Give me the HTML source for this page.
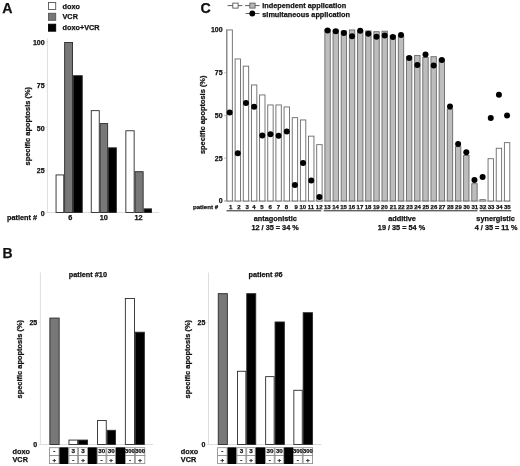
<!DOCTYPE html>
<html><head><meta charset="utf-8"><style>
html,body{margin:0;padding:0;background:#fff;}
svg{display:block;font-family:"Liberation Sans", sans-serif;will-change:transform;}
</style></head><body>
<svg width="520" height="466" viewBox="0 0 520 466">
<rect width="520" height="466" fill="#fff"/>
<text x="2.20" y="13.10" font-size="14.2" text-anchor="start" font-weight="bold" fill="#111" stroke="#111" stroke-width="0.25" >A</text>
<rect x="48.50" y="2.50" width="7.20" height="7.00" fill="#fff" stroke="#555" stroke-width="0.9" />
<rect x="48.50" y="13.30" width="7.20" height="7.00" fill="#787878" stroke="#555" stroke-width="0.9" />
<rect x="48.50" y="24.20" width="7.20" height="7.00" fill="#000" stroke="#000" stroke-width="0.9" />
<text x="62.50" y="8.60" font-size="7.3" text-anchor="start" font-weight="bold" fill="#111" stroke="#111" stroke-width="0.25" >doxo</text>
<text x="62.50" y="19.40" font-size="7.3" text-anchor="start" font-weight="bold" fill="#111" stroke="#111" stroke-width="0.25" >VCR</text>
<text x="62.50" y="30.00" font-size="7.3" text-anchor="start" font-weight="bold" fill="#111" stroke="#111" stroke-width="0.25" >doxo+VCR</text>
<line x1="47.40" y1="38.50" x2="47.40" y2="212.50" stroke="#d4d4d4" stroke-width="0.8"/>
<line x1="47.40" y1="212.50" x2="159.00" y2="212.50" stroke="#d4d4d4" stroke-width="0.8"/>
<text x="44.60" y="45.28" font-size="7.0" text-anchor="end" font-weight="bold" fill="#111" stroke="#111" stroke-width="0.25" >100</text>
<line x1="45.60" y1="42.00" x2="47.40" y2="42.00" stroke="#d4d4d4" stroke-width="0.6"/>
<text x="44.60" y="87.91" font-size="7.0" text-anchor="end" font-weight="bold" fill="#111" stroke="#111" stroke-width="0.25" >75</text>
<line x1="45.60" y1="84.62" x2="47.40" y2="84.62" stroke="#d4d4d4" stroke-width="0.6"/>
<text x="44.60" y="130.54" font-size="7.0" text-anchor="end" font-weight="bold" fill="#111" stroke="#111" stroke-width="0.25" >50</text>
<line x1="45.60" y1="127.25" x2="47.40" y2="127.25" stroke="#d4d4d4" stroke-width="0.6"/>
<text x="44.60" y="173.16" font-size="7.0" text-anchor="end" font-weight="bold" fill="#111" stroke="#111" stroke-width="0.25" >25</text>
<line x1="45.60" y1="169.88" x2="47.40" y2="169.88" stroke="#d4d4d4" stroke-width="0.6"/>
<text x="44.60" y="215.79" font-size="7.0" text-anchor="end" font-weight="bold" fill="#111" stroke="#111" stroke-width="0.25" >0</text>
<line x1="45.60" y1="212.50" x2="47.40" y2="212.50" stroke="#d4d4d4" stroke-width="0.6"/>
<rect x="56.05" y="174.93" width="7.70" height="37.57" fill="#fff" stroke="#2a2a2a" stroke-width="0.9" />
<rect x="64.65" y="42.45" width="7.90" height="170.05" fill="#787878" stroke="#2a2a2a" stroke-width="0.9" />
<rect x="73.45" y="75.70" width="8.80" height="136.80" fill="#000" stroke="#2a2a2a" stroke-width="0.9" />
<rect x="91.25" y="110.65" width="8.00" height="101.85" fill="#fff" stroke="#2a2a2a" stroke-width="0.9" />
<rect x="100.15" y="123.61" width="7.50" height="88.89" fill="#787878" stroke="#2a2a2a" stroke-width="0.9" />
<rect x="108.55" y="147.82" width="7.80" height="64.68" fill="#000" stroke="#2a2a2a" stroke-width="0.9" />
<rect x="125.85" y="130.77" width="8.30" height="81.73" fill="#fff" stroke="#2a2a2a" stroke-width="0.9" />
<rect x="135.05" y="171.69" width="8.10" height="40.81" fill="#787878" stroke="#2a2a2a" stroke-width="0.9" />
<rect x="144.05" y="208.86" width="7.50" height="3.64" fill="#000" stroke="#2a2a2a" stroke-width="0.9" />
<text x="22.10" y="219.90" font-size="7.3" text-anchor="middle" font-weight="bold" fill="#111" stroke="#111" stroke-width="0.25" >patient #</text>
<text x="70.40" y="220.20" font-size="7.3" text-anchor="middle" font-weight="bold" fill="#111" stroke="#111" stroke-width="0.25" >6</text>
<text x="103.75" y="220.20" font-size="7.3" text-anchor="middle" font-weight="bold" fill="#111" stroke="#111" stroke-width="0.25" >10</text>
<text x="138.50" y="220.20" font-size="7.3" text-anchor="middle" font-weight="bold" fill="#111" stroke="#111" stroke-width="0.25" >12</text>
<text transform="translate(29.70,126.20) rotate(-90)" x="0" y="0" font-size="7.45" text-anchor="middle" font-weight="bold" fill="#111" stroke="#111" stroke-width="0.25">specific apoptosis (%)</text>
<text x="200.50" y="13.20" font-size="14.2" text-anchor="start" font-weight="bold" fill="#111" stroke="#111" stroke-width="0.25" >C</text>
<line x1="227.60" y1="5.60" x2="242.30" y2="5.60" stroke="#333" stroke-width="0.8"/>
<rect x="232.80" y="3.10" width="5.30" height="5.00" fill="#fff" stroke="#444" stroke-width="0.8" />
<line x1="245.10" y1="5.60" x2="259.50" y2="5.60" stroke="#333" stroke-width="0.8"/>
<rect x="249.80" y="3.10" width="5.30" height="5.00" fill="#b8b8b8" stroke="#555" stroke-width="0.8" />
<line x1="245.70" y1="13.50" x2="259.50" y2="13.50" stroke="#333" stroke-width="0.8"/>
<circle cx="252.30" cy="13.50" r="2.90" fill="#000"/>
<text x="262.30" y="8.30" font-size="7.3" text-anchor="start" font-weight="bold" fill="#111" stroke="#111" stroke-width="0.25" >independent application</text>
<text x="262.30" y="16.50" font-size="7.3" text-anchor="start" font-weight="bold" fill="#111" stroke="#111" stroke-width="0.25" >simultaneous application</text>
<line x1="226.60" y1="29.50" x2="226.60" y2="201.00" stroke="#999" stroke-width="0.9"/>
<line x1="224.50" y1="201.00" x2="510.50" y2="201.00" stroke="#999" stroke-width="0.8"/>
<text x="222.60" y="32.48" font-size="7.0" text-anchor="end" font-weight="bold" fill="#111" stroke="#111" stroke-width="0.25" >100</text>
<text x="222.60" y="75.23" font-size="7.0" text-anchor="end" font-weight="bold" fill="#111" stroke="#111" stroke-width="0.25" >75</text>
<line x1="224.00" y1="72.75" x2="226.60" y2="72.75" stroke="#999" stroke-width="0.6"/>
<text x="222.60" y="117.98" font-size="7.0" text-anchor="end" font-weight="bold" fill="#111" stroke="#111" stroke-width="0.25" >50</text>
<line x1="224.00" y1="115.50" x2="226.60" y2="115.50" stroke="#999" stroke-width="0.6"/>
<text x="222.60" y="160.74" font-size="7.0" text-anchor="end" font-weight="bold" fill="#111" stroke="#111" stroke-width="0.25" >25</text>
<line x1="224.00" y1="158.25" x2="226.60" y2="158.25" stroke="#999" stroke-width="0.6"/>
<text x="222.60" y="203.49" font-size="7.0" text-anchor="end" font-weight="bold" fill="#111" stroke="#111" stroke-width="0.25" >0</text>
<line x1="224.00" y1="201.00" x2="226.60" y2="201.00" stroke="#999" stroke-width="0.6"/>
<rect x="226.95" y="29.95" width="5.40" height="171.05" fill="#fff" stroke="#6a6a6a" stroke-width="0.9" />
<rect x="235.11" y="58.95" width="5.40" height="142.05" fill="#fff" stroke="#6a6a6a" stroke-width="0.9" />
<rect x="243.27" y="66.15" width="5.40" height="134.85" fill="#fff" stroke="#6a6a6a" stroke-width="0.9" />
<rect x="251.43" y="84.95" width="5.40" height="116.05" fill="#fff" stroke="#6a6a6a" stroke-width="0.9" />
<rect x="259.59" y="94.95" width="5.40" height="106.05" fill="#fff" stroke="#6a6a6a" stroke-width="0.9" />
<rect x="267.75" y="104.95" width="5.40" height="96.05" fill="#fff" stroke="#6a6a6a" stroke-width="0.9" />
<rect x="275.91" y="104.95" width="5.40" height="96.05" fill="#fff" stroke="#6a6a6a" stroke-width="0.9" />
<rect x="284.07" y="106.95" width="5.40" height="94.05" fill="#fff" stroke="#6a6a6a" stroke-width="0.9" />
<rect x="292.23" y="117.65" width="5.40" height="83.35" fill="#fff" stroke="#6a6a6a" stroke-width="0.9" />
<rect x="300.39" y="119.95" width="5.40" height="81.05" fill="#fff" stroke="#6a6a6a" stroke-width="0.9" />
<rect x="308.55" y="136.15" width="5.40" height="64.85" fill="#fff" stroke="#6a6a6a" stroke-width="0.9" />
<rect x="316.71" y="144.65" width="5.40" height="56.35" fill="#fff" stroke="#6a6a6a" stroke-width="0.9" />
<rect x="324.87" y="29.45" width="5.40" height="171.55" fill="#bdbdbd" stroke="#6a6a6a" stroke-width="0.9" />
<rect x="333.03" y="29.95" width="5.40" height="171.05" fill="#bdbdbd" stroke="#6a6a6a" stroke-width="0.9" />
<rect x="341.19" y="30.95" width="5.40" height="170.05" fill="#bdbdbd" stroke="#6a6a6a" stroke-width="0.9" />
<rect x="349.35" y="29.95" width="5.40" height="171.05" fill="#bdbdbd" stroke="#6a6a6a" stroke-width="0.9" />
<rect x="357.51" y="30.45" width="5.40" height="170.55" fill="#bdbdbd" stroke="#6a6a6a" stroke-width="0.9" />
<rect x="365.67" y="30.95" width="5.40" height="170.05" fill="#bdbdbd" stroke="#6a6a6a" stroke-width="0.9" />
<rect x="373.83" y="31.70" width="5.40" height="169.30" fill="#bdbdbd" stroke="#6a6a6a" stroke-width="0.9" />
<rect x="381.99" y="31.20" width="5.40" height="169.80" fill="#bdbdbd" stroke="#6a6a6a" stroke-width="0.9" />
<rect x="390.15" y="35.45" width="5.40" height="165.55" fill="#bdbdbd" stroke="#6a6a6a" stroke-width="0.9" />
<rect x="398.31" y="35.45" width="5.40" height="165.55" fill="#bdbdbd" stroke="#6a6a6a" stroke-width="0.9" />
<rect x="406.47" y="56.70" width="5.40" height="144.30" fill="#bdbdbd" stroke="#6a6a6a" stroke-width="0.9" />
<rect x="414.63" y="55.45" width="5.40" height="145.55" fill="#bdbdbd" stroke="#6a6a6a" stroke-width="0.9" />
<rect x="422.79" y="57.45" width="5.40" height="143.55" fill="#bdbdbd" stroke="#6a6a6a" stroke-width="0.9" />
<rect x="430.95" y="56.70" width="5.40" height="144.30" fill="#bdbdbd" stroke="#6a6a6a" stroke-width="0.9" />
<rect x="439.11" y="59.20" width="5.40" height="141.80" fill="#bdbdbd" stroke="#6a6a6a" stroke-width="0.9" />
<rect x="447.27" y="109.05" width="5.40" height="91.95" fill="#bdbdbd" stroke="#6a6a6a" stroke-width="0.9" />
<rect x="455.43" y="146.70" width="5.40" height="54.30" fill="#bdbdbd" stroke="#6a6a6a" stroke-width="0.9" />
<rect x="463.59" y="155.45" width="5.40" height="45.55" fill="#bdbdbd" stroke="#6a6a6a" stroke-width="0.9" />
<rect x="471.75" y="183.70" width="5.40" height="17.30" fill="#bdbdbd" stroke="#6a6a6a" stroke-width="0.9" />
<rect x="479.91" y="199.65" width="5.40" height="1.35" fill="#fff" stroke="#6a6a6a" stroke-width="0.9" />
<rect x="488.07" y="158.70" width="5.40" height="42.30" fill="#fff" stroke="#6a6a6a" stroke-width="0.9" />
<rect x="496.23" y="148.25" width="5.40" height="52.75" fill="#fff" stroke="#6a6a6a" stroke-width="0.9" />
<rect x="504.39" y="142.65" width="5.40" height="58.35" fill="#fff" stroke="#6a6a6a" stroke-width="0.9" />
<circle cx="229.65" cy="112.50" r="3.00" fill="#000"/>
<circle cx="237.81" cy="153.25" r="3.00" fill="#000"/>
<circle cx="245.97" cy="103.00" r="3.00" fill="#000"/>
<circle cx="254.13" cy="106.75" r="3.00" fill="#000"/>
<circle cx="262.29" cy="135.40" r="3.00" fill="#000"/>
<circle cx="270.45" cy="134.20" r="3.00" fill="#000"/>
<circle cx="278.61" cy="135.80" r="3.00" fill="#000"/>
<circle cx="286.77" cy="131.50" r="3.00" fill="#000"/>
<circle cx="294.93" cy="185.00" r="3.00" fill="#000"/>
<circle cx="303.09" cy="163.00" r="3.00" fill="#000"/>
<circle cx="311.25" cy="180.50" r="3.00" fill="#000"/>
<circle cx="319.41" cy="197.00" r="3.00" fill="#000"/>
<circle cx="327.57" cy="30.50" r="3.00" fill="#000"/>
<circle cx="335.73" cy="31.25" r="3.00" fill="#000"/>
<circle cx="343.89" cy="33.00" r="3.00" fill="#000"/>
<circle cx="352.05" cy="36.25" r="3.00" fill="#000"/>
<circle cx="360.21" cy="30.75" r="3.00" fill="#000"/>
<circle cx="368.37" cy="33.75" r="3.00" fill="#000"/>
<circle cx="376.53" cy="36.75" r="3.00" fill="#000"/>
<circle cx="384.69" cy="35.50" r="3.00" fill="#000"/>
<circle cx="392.85" cy="37.00" r="3.00" fill="#000"/>
<circle cx="401.01" cy="35.00" r="3.00" fill="#000"/>
<circle cx="409.17" cy="58.00" r="3.00" fill="#000"/>
<circle cx="417.33" cy="65.00" r="3.00" fill="#000"/>
<circle cx="425.49" cy="54.50" r="3.00" fill="#000"/>
<circle cx="433.65" cy="65.50" r="3.00" fill="#000"/>
<circle cx="441.81" cy="60.00" r="3.00" fill="#000"/>
<circle cx="449.97" cy="106.60" r="3.00" fill="#000"/>
<circle cx="458.13" cy="144.00" r="3.00" fill="#000"/>
<circle cx="466.29" cy="152.30" r="3.00" fill="#000"/>
<circle cx="474.45" cy="180.00" r="3.00" fill="#000"/>
<circle cx="482.61" cy="177.00" r="3.00" fill="#000"/>
<circle cx="490.77" cy="118.00" r="3.00" fill="#000"/>
<circle cx="498.93" cy="94.70" r="3.00" fill="#000"/>
<circle cx="507.09" cy="115.50" r="3.00" fill="#000"/>
<text x="230.60" y="209.00" font-size="6.0" text-anchor="middle" font-weight="bold" fill="#111" stroke="#111" stroke-width="0.25" >1</text>
<text x="238.96" y="209.00" font-size="6.0" text-anchor="middle" font-weight="bold" fill="#111" stroke="#111" stroke-width="0.25" >2</text>
<text x="247.12" y="209.00" font-size="6.0" text-anchor="middle" font-weight="bold" fill="#111" stroke="#111" stroke-width="0.25" >3</text>
<text x="253.88" y="209.00" font-size="6.0" text-anchor="middle" font-weight="bold" fill="#111" stroke="#111" stroke-width="0.25" >4</text>
<text x="262.04" y="209.00" font-size="6.0" text-anchor="middle" font-weight="bold" fill="#111" stroke="#111" stroke-width="0.25" >5</text>
<text x="270.20" y="209.00" font-size="6.0" text-anchor="middle" font-weight="bold" fill="#111" stroke="#111" stroke-width="0.25" >6</text>
<text x="278.36" y="209.00" font-size="6.0" text-anchor="middle" font-weight="bold" fill="#111" stroke="#111" stroke-width="0.25" >7</text>
<text x="286.52" y="209.00" font-size="6.0" text-anchor="middle" font-weight="bold" fill="#111" stroke="#111" stroke-width="0.25" >8</text>
<text x="296.08" y="209.00" font-size="6.0" text-anchor="middle" font-weight="bold" fill="#111" stroke="#111" stroke-width="0.25" >9</text>
<text x="302.84" y="209.00" font-size="6.0" text-anchor="middle" font-weight="bold" fill="#111" stroke="#111" stroke-width="0.25" >10</text>
<text x="311.00" y="209.00" font-size="6.0" text-anchor="middle" font-weight="bold" fill="#111" stroke="#111" stroke-width="0.25" >11</text>
<text x="319.16" y="209.00" font-size="6.0" text-anchor="middle" font-weight="bold" fill="#111" stroke="#111" stroke-width="0.25" >12</text>
<text x="327.32" y="209.00" font-size="6.0" text-anchor="middle" font-weight="bold" fill="#111" stroke="#111" stroke-width="0.25" >13</text>
<text x="335.48" y="209.00" font-size="6.0" text-anchor="middle" font-weight="bold" fill="#111" stroke="#111" stroke-width="0.25" >14</text>
<text x="343.64" y="209.00" font-size="6.0" text-anchor="middle" font-weight="bold" fill="#111" stroke="#111" stroke-width="0.25" >15</text>
<text x="351.80" y="209.00" font-size="6.0" text-anchor="middle" font-weight="bold" fill="#111" stroke="#111" stroke-width="0.25" >16</text>
<text x="359.96" y="209.00" font-size="6.0" text-anchor="middle" font-weight="bold" fill="#111" stroke="#111" stroke-width="0.25" >17</text>
<text x="368.12" y="209.00" font-size="6.0" text-anchor="middle" font-weight="bold" fill="#111" stroke="#111" stroke-width="0.25" >18</text>
<text x="376.28" y="209.00" font-size="6.0" text-anchor="middle" font-weight="bold" fill="#111" stroke="#111" stroke-width="0.25" >19</text>
<text x="384.44" y="209.00" font-size="6.0" text-anchor="middle" font-weight="bold" fill="#111" stroke="#111" stroke-width="0.25" >20</text>
<text x="393.15" y="209.00" font-size="6.0" text-anchor="middle" font-weight="bold" fill="#111" stroke="#111" stroke-width="0.25" >21</text>
<text x="401.31" y="209.00" font-size="6.0" text-anchor="middle" font-weight="bold" fill="#111" stroke="#111" stroke-width="0.25" >22</text>
<text x="409.47" y="209.00" font-size="6.0" text-anchor="middle" font-weight="bold" fill="#111" stroke="#111" stroke-width="0.25" >23</text>
<text x="417.63" y="209.00" font-size="6.0" text-anchor="middle" font-weight="bold" fill="#111" stroke="#111" stroke-width="0.25" >24</text>
<text x="425.79" y="209.00" font-size="6.0" text-anchor="middle" font-weight="bold" fill="#111" stroke="#111" stroke-width="0.25" >25</text>
<text x="433.95" y="209.00" font-size="6.0" text-anchor="middle" font-weight="bold" fill="#111" stroke="#111" stroke-width="0.25" >26</text>
<text x="442.11" y="209.00" font-size="6.0" text-anchor="middle" font-weight="bold" fill="#111" stroke="#111" stroke-width="0.25" >27</text>
<text x="450.27" y="209.00" font-size="6.0" text-anchor="middle" font-weight="bold" fill="#111" stroke="#111" stroke-width="0.25" >28</text>
<text x="458.43" y="209.00" font-size="6.0" text-anchor="middle" font-weight="bold" fill="#111" stroke="#111" stroke-width="0.25" >29</text>
<text x="466.59" y="209.00" font-size="6.0" text-anchor="middle" font-weight="bold" fill="#111" stroke="#111" stroke-width="0.25" >30</text>
<text x="474.75" y="209.00" font-size="6.0" text-anchor="middle" font-weight="bold" fill="#111" stroke="#111" stroke-width="0.25" >31</text>
<text x="482.91" y="209.00" font-size="6.0" text-anchor="middle" font-weight="bold" fill="#111" stroke="#111" stroke-width="0.25" >32</text>
<text x="491.07" y="209.00" font-size="6.0" text-anchor="middle" font-weight="bold" fill="#111" stroke="#111" stroke-width="0.25" >33</text>
<text x="499.23" y="209.00" font-size="6.0" text-anchor="middle" font-weight="bold" fill="#111" stroke="#111" stroke-width="0.25" >34</text>
<text x="507.39" y="209.00" font-size="6.0" text-anchor="middle" font-weight="bold" fill="#111" stroke="#111" stroke-width="0.25" >35</text>
<text x="205.50" y="209.00" font-size="6.1" text-anchor="middle" font-weight="bold" fill="#111" stroke="#111" stroke-width="0.25" >patient #</text>
<line x1="226.50" y1="210.80" x2="321.30" y2="210.80" stroke="#222" stroke-width="1.0"/>
<line x1="323.70" y1="210.80" x2="477.50" y2="210.80" stroke="#222" stroke-width="1.0"/>
<line x1="479.50" y1="210.80" x2="511.30" y2="210.80" stroke="#222" stroke-width="1.0"/>
<text x="275.30" y="221.30" font-size="7.3" text-anchor="middle" font-weight="bold" fill="#111" stroke="#111" stroke-width="0.25" >antagonistic</text>
<text x="275.10" y="230.20" font-size="7.3" text-anchor="middle" font-weight="bold" fill="#111" stroke="#111" stroke-width="0.25" >12 / 35 = 34 %</text>
<text x="402.00" y="221.30" font-size="7.3" text-anchor="middle" font-weight="bold" fill="#111" stroke="#111" stroke-width="0.25" >additive</text>
<text x="401.50" y="230.20" font-size="7.3" text-anchor="middle" font-weight="bold" fill="#111" stroke="#111" stroke-width="0.25" >19 / 35 = 54 %</text>
<text x="495.60" y="221.30" font-size="7.3" text-anchor="middle" font-weight="bold" fill="#111" stroke="#111" stroke-width="0.25" >synergistic</text>
<text x="496.20" y="230.20" font-size="7.3" text-anchor="middle" font-weight="bold" fill="#111" stroke="#111" stroke-width="0.25" >4 / 35 = 11 %</text>
<text transform="translate(204.90,114.80) rotate(-90)" x="0" y="0" font-size="7.45" text-anchor="middle" font-weight="bold" fill="#111" stroke="#111" stroke-width="0.25">specific apoptosis (%)</text>
<text x="2.60" y="258.20" font-size="14.0" text-anchor="start" font-weight="bold" fill="#111" stroke="#111" stroke-width="0.25" >B</text>
<line x1="40.40" y1="272.50" x2="40.40" y2="444.50" stroke="#d4d4d4" stroke-width="0.8"/>
<line x1="40.40" y1="444.50" x2="153.00" y2="444.50" stroke="#d4d4d4" stroke-width="0.8"/>
<text x="37.20" y="324.99" font-size="7.0" text-anchor="end" font-weight="bold" fill="#111" stroke="#111" stroke-width="0.25" >25</text>
<line x1="38.80" y1="322.50" x2="40.40" y2="322.50" stroke="#d4d4d4" stroke-width="0.6"/>
<text x="37.20" y="446.99" font-size="7.0" text-anchor="end" font-weight="bold" fill="#111" stroke="#111" stroke-width="0.25" >0</text>
<line x1="38.80" y1="444.50" x2="40.40" y2="444.50" stroke="#d4d4d4" stroke-width="0.6"/>
<text x="87.90" y="277.09" font-size="7.3" text-anchor="middle" font-weight="bold" fill="#111" stroke="#111" stroke-width="0.25" >patient #10</text>
<rect x="49.85" y="318.07" width="9.30" height="126.43" fill="#787878" stroke="#2a2a2a" stroke-width="0.9" />
<rect x="68.95" y="440.07" width="8.70" height="4.43" fill="#fff" stroke="#2a2a2a" stroke-width="0.9" />
<rect x="78.55" y="440.07" width="9.00" height="4.43" fill="#000" stroke="#2a2a2a" stroke-width="0.9" />
<rect x="97.55" y="420.55" width="8.70" height="23.95" fill="#fff" stroke="#2a2a2a" stroke-width="0.9" />
<rect x="107.15" y="430.31" width="8.30" height="14.19" fill="#000" stroke="#2a2a2a" stroke-width="0.9" />
<rect x="125.35" y="298.55" width="9.10" height="145.95" fill="#fff" stroke="#2a2a2a" stroke-width="0.9" />
<rect x="135.35" y="332.22" width="9.00" height="112.28" fill="#000" stroke="#2a2a2a" stroke-width="0.9" />
<rect x="49.40" y="447.70" width="9.60" height="7.80" fill="#fff" stroke="#888" stroke-width="0.8" />
<rect x="49.40" y="455.50" width="9.60" height="8.10" fill="#fff" stroke="#888" stroke-width="0.8" />
<text x="54.20" y="452.80" font-size="6.2" text-anchor="middle" font-weight="bold" fill="#111" stroke="#111" stroke-width="0.25" >-</text>
<text x="54.20" y="461.95" font-size="6.2" text-anchor="middle" font-weight="bold" fill="#111" stroke="#111" stroke-width="0.25" >+</text>
<rect x="59.40" y="447.30" width="9.10" height="16.70" fill="#000" />
<rect x="68.90" y="447.70" width="8.80" height="7.80" fill="#fff" stroke="#888" stroke-width="0.8" />
<rect x="68.90" y="455.50" width="8.80" height="8.10" fill="#fff" stroke="#888" stroke-width="0.8" />
<text x="73.30" y="452.80" font-size="6.2" text-anchor="middle" font-weight="bold" fill="#111" stroke="#111" stroke-width="0.25" >3</text>
<text x="73.30" y="461.95" font-size="6.2" text-anchor="middle" font-weight="bold" fill="#111" stroke="#111" stroke-width="0.25" >-</text>
<rect x="78.50" y="447.70" width="9.10" height="7.80" fill="#fff" stroke="#888" stroke-width="0.8" />
<rect x="78.50" y="455.50" width="9.10" height="8.10" fill="#fff" stroke="#888" stroke-width="0.8" />
<text x="83.05" y="452.80" font-size="6.2" text-anchor="middle" font-weight="bold" fill="#111" stroke="#111" stroke-width="0.25" >3</text>
<text x="83.05" y="461.95" font-size="6.2" text-anchor="middle" font-weight="bold" fill="#111" stroke="#111" stroke-width="0.25" >+</text>
<rect x="88.00" y="447.30" width="8.90" height="16.70" fill="#000" />
<rect x="97.30" y="447.70" width="8.70" height="7.80" fill="#fff" stroke="#888" stroke-width="0.8" />
<rect x="97.30" y="455.50" width="8.70" height="8.10" fill="#fff" stroke="#888" stroke-width="0.8" />
<text x="101.65" y="452.80" font-size="6.2" text-anchor="middle" font-weight="bold" fill="#111" stroke="#111" stroke-width="0.25" >30</text>
<text x="101.65" y="461.95" font-size="6.2" text-anchor="middle" font-weight="bold" fill="#111" stroke="#111" stroke-width="0.25" >-</text>
<rect x="106.80" y="447.70" width="8.70" height="7.80" fill="#fff" stroke="#888" stroke-width="0.8" />
<rect x="106.80" y="455.50" width="8.70" height="8.10" fill="#fff" stroke="#888" stroke-width="0.8" />
<text x="111.15" y="452.80" font-size="6.2" text-anchor="middle" font-weight="bold" fill="#111" stroke="#111" stroke-width="0.25" >30</text>
<text x="111.15" y="461.95" font-size="6.2" text-anchor="middle" font-weight="bold" fill="#111" stroke="#111" stroke-width="0.25" >+</text>
<rect x="115.90" y="447.30" width="9.10" height="16.70" fill="#000" />
<rect x="125.40" y="447.70" width="9.10" height="7.80" fill="#fff" stroke="#888" stroke-width="0.8" />
<rect x="125.40" y="455.50" width="9.10" height="8.10" fill="#fff" stroke="#888" stroke-width="0.8" />
<text x="129.95" y="452.80" font-size="5.8" text-anchor="middle" font-weight="bold" fill="#111" stroke="#111" stroke-width="0.25" >300</text>
<text x="129.95" y="461.95" font-size="6.2" text-anchor="middle" font-weight="bold" fill="#111" stroke="#111" stroke-width="0.25" >-</text>
<rect x="135.30" y="447.70" width="9.50" height="7.80" fill="#fff" stroke="#888" stroke-width="0.8" />
<rect x="135.30" y="455.50" width="9.50" height="8.10" fill="#fff" stroke="#888" stroke-width="0.8" />
<text x="140.05" y="452.80" font-size="5.8" text-anchor="middle" font-weight="bold" fill="#111" stroke="#111" stroke-width="0.25" >300</text>
<text x="140.05" y="461.95" font-size="6.2" text-anchor="middle" font-weight="bold" fill="#111" stroke="#111" stroke-width="0.25" >+</text>
<text x="12.50" y="453.79" font-size="7.3" text-anchor="start" font-weight="bold" fill="#111" stroke="#111" stroke-width="0.25" >doxo</text>
<text x="12.50" y="461.99" font-size="7.3" text-anchor="start" font-weight="bold" fill="#111" stroke="#111" stroke-width="0.25" >VCR</text>
<text transform="translate(21.60,359.20) rotate(-90)" x="0" y="0" font-size="7.45" text-anchor="middle" font-weight="bold" fill="#111" stroke="#111" stroke-width="0.25">specific apoptosis (%)</text>
<line x1="208.50" y1="272.50" x2="208.50" y2="444.50" stroke="#d4d4d4" stroke-width="0.8"/>
<line x1="208.50" y1="444.50" x2="321.50" y2="444.50" stroke="#d4d4d4" stroke-width="0.8"/>
<text x="205.30" y="324.99" font-size="7.0" text-anchor="end" font-weight="bold" fill="#111" stroke="#111" stroke-width="0.25" >25</text>
<line x1="206.90" y1="322.50" x2="208.50" y2="322.50" stroke="#d4d4d4" stroke-width="0.6"/>
<text x="205.30" y="446.99" font-size="7.0" text-anchor="end" font-weight="bold" fill="#111" stroke="#111" stroke-width="0.25" >0</text>
<line x1="206.90" y1="444.50" x2="208.50" y2="444.50" stroke="#d4d4d4" stroke-width="0.6"/>
<text x="265.60" y="277.09" font-size="7.3" text-anchor="middle" font-weight="bold" fill="#111" stroke="#111" stroke-width="0.25" >patient #6</text>
<rect x="218.25" y="293.67" width="9.10" height="150.83" fill="#787878" stroke="#2a2a2a" stroke-width="0.9" />
<rect x="237.45" y="371.26" width="8.40" height="73.24" fill="#fff" stroke="#2a2a2a" stroke-width="0.9" />
<rect x="246.75" y="293.67" width="9.00" height="150.83" fill="#000" stroke="#2a2a2a" stroke-width="0.9" />
<rect x="265.65" y="376.63" width="8.50" height="67.87" fill="#fff" stroke="#2a2a2a" stroke-width="0.9" />
<rect x="275.05" y="321.97" width="9.30" height="122.53" fill="#000" stroke="#2a2a2a" stroke-width="0.9" />
<rect x="293.85" y="390.29" width="8.40" height="54.21" fill="#fff" stroke="#2a2a2a" stroke-width="0.9" />
<rect x="303.15" y="312.70" width="9.30" height="131.80" fill="#000" stroke="#2a2a2a" stroke-width="0.9" />
<rect x="217.60" y="447.70" width="9.50" height="7.80" fill="#fff" stroke="#888" stroke-width="0.8" />
<rect x="217.60" y="455.50" width="9.50" height="8.10" fill="#fff" stroke="#888" stroke-width="0.8" />
<text x="222.35" y="452.80" font-size="6.2" text-anchor="middle" font-weight="bold" fill="#111" stroke="#111" stroke-width="0.25" >-</text>
<text x="222.35" y="461.95" font-size="6.2" text-anchor="middle" font-weight="bold" fill="#111" stroke="#111" stroke-width="0.25" >+</text>
<rect x="227.50" y="447.30" width="9.00" height="16.70" fill="#000" />
<rect x="236.90" y="447.70" width="9.00" height="7.80" fill="#fff" stroke="#888" stroke-width="0.8" />
<rect x="236.90" y="455.50" width="9.00" height="8.10" fill="#fff" stroke="#888" stroke-width="0.8" />
<text x="241.40" y="452.80" font-size="6.2" text-anchor="middle" font-weight="bold" fill="#111" stroke="#111" stroke-width="0.25" >3</text>
<text x="241.40" y="461.95" font-size="6.2" text-anchor="middle" font-weight="bold" fill="#111" stroke="#111" stroke-width="0.25" >-</text>
<rect x="246.70" y="447.70" width="8.50" height="7.80" fill="#fff" stroke="#888" stroke-width="0.8" />
<rect x="246.70" y="455.50" width="8.50" height="8.10" fill="#fff" stroke="#888" stroke-width="0.8" />
<text x="250.95" y="452.80" font-size="6.2" text-anchor="middle" font-weight="bold" fill="#111" stroke="#111" stroke-width="0.25" >3</text>
<text x="250.95" y="461.95" font-size="6.2" text-anchor="middle" font-weight="bold" fill="#111" stroke="#111" stroke-width="0.25" >+</text>
<rect x="255.60" y="447.30" width="9.60" height="16.70" fill="#000" />
<rect x="265.60" y="447.70" width="8.60" height="7.80" fill="#fff" stroke="#888" stroke-width="0.8" />
<rect x="265.60" y="455.50" width="8.60" height="8.10" fill="#fff" stroke="#888" stroke-width="0.8" />
<text x="269.90" y="452.80" font-size="6.2" text-anchor="middle" font-weight="bold" fill="#111" stroke="#111" stroke-width="0.25" >30</text>
<text x="269.90" y="461.95" font-size="6.2" text-anchor="middle" font-weight="bold" fill="#111" stroke="#111" stroke-width="0.25" >-</text>
<rect x="275.00" y="447.70" width="8.70" height="7.80" fill="#fff" stroke="#888" stroke-width="0.8" />
<rect x="275.00" y="455.50" width="8.70" height="8.10" fill="#fff" stroke="#888" stroke-width="0.8" />
<text x="279.35" y="452.80" font-size="6.2" text-anchor="middle" font-weight="bold" fill="#111" stroke="#111" stroke-width="0.25" >30</text>
<text x="279.35" y="461.95" font-size="6.2" text-anchor="middle" font-weight="bold" fill="#111" stroke="#111" stroke-width="0.25" >+</text>
<rect x="284.10" y="447.30" width="9.00" height="16.70" fill="#000" />
<rect x="293.50" y="447.70" width="8.80" height="7.80" fill="#fff" stroke="#888" stroke-width="0.8" />
<rect x="293.50" y="455.50" width="8.80" height="8.10" fill="#fff" stroke="#888" stroke-width="0.8" />
<text x="297.90" y="452.80" font-size="5.8" text-anchor="middle" font-weight="bold" fill="#111" stroke="#111" stroke-width="0.25" >300</text>
<text x="297.90" y="461.95" font-size="6.2" text-anchor="middle" font-weight="bold" fill="#111" stroke="#111" stroke-width="0.25" >-</text>
<rect x="303.10" y="447.70" width="9.50" height="7.80" fill="#fff" stroke="#888" stroke-width="0.8" />
<rect x="303.10" y="455.50" width="9.50" height="8.10" fill="#fff" stroke="#888" stroke-width="0.8" />
<text x="307.85" y="452.80" font-size="5.8" text-anchor="middle" font-weight="bold" fill="#111" stroke="#111" stroke-width="0.25" >300</text>
<text x="307.85" y="461.95" font-size="6.2" text-anchor="middle" font-weight="bold" fill="#111" stroke="#111" stroke-width="0.25" >+</text>
<text x="180.80" y="453.79" font-size="7.3" text-anchor="start" font-weight="bold" fill="#111" stroke="#111" stroke-width="0.25" >doxo</text>
<text x="180.80" y="461.99" font-size="7.3" text-anchor="start" font-weight="bold" fill="#111" stroke="#111" stroke-width="0.25" >VCR</text>
<text transform="translate(189.60,359.20) rotate(-90)" x="0" y="0" font-size="7.45" text-anchor="middle" font-weight="bold" fill="#111" stroke="#111" stroke-width="0.25">specific apoptosis (%)</text>
</svg>
</body></html>
